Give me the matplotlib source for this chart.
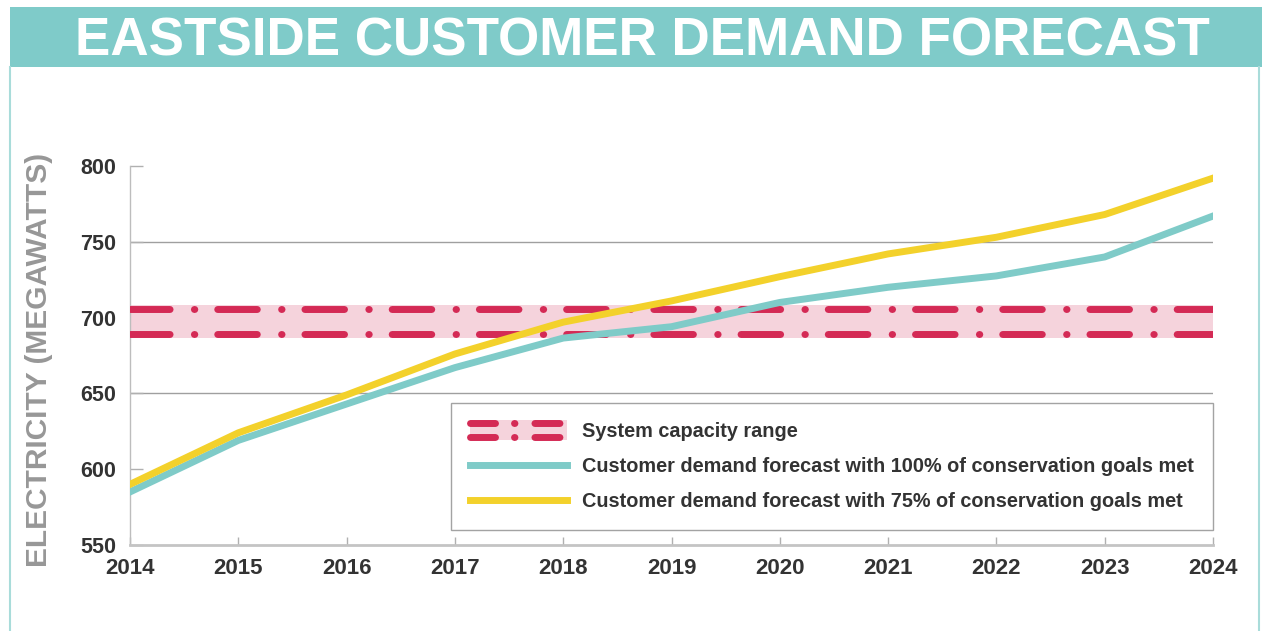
import matplotlib.pyplot as plt
from matplotlib.lines import Line2D
from matplotlib.patches import Rectangle
from matplotlib.legend_handler import HandlerBase

plt.rcParams['font.family'] = ['Liberation Sans', 'DejaVu Sans']
plt.rcParams['lines.scale_dashes'] = False

# data
years = list(range(2014, 2025))
demand_100 = [585, 619, 643, 667, 686.5, 694, 710, 720, 727.5, 740, 767]
demand_75 = [590, 624, 649, 676, 697, 711, 727, 742, 753, 768, 792]
capacity_low = 689
capacity_high = 706
y_ticks = [550, 600, 650, 700, 750, 800]
grid_values = [650, 750]
labels = ["System capacity range",
          "Customer demand forecast with 100% of conservation goals met",
          "Customer demand forecast with 75% of conservation goals met"]

TEAL = '#7fcbc8'
YELLOW = '#f3d12b'
RED = '#d42a55'
PINK = '#f5d3dc'
TEXT = '#333333'

PLOT_DASH = (0, (28.5, 17.5, 0.3, 16.5))
LEG_DASH = (0, (18, 13.7, 0.3, 14.4))


class CapacityHandler(HandlerBase):
    # pink band with a dash-dot line on each edge
    def create_artists(self, legend, orig_handle, xdescent, ydescent,
                       width, height, fontsize, trans):
        x0, x1 = -xdescent, width - xdescent
        yc = -ydescent + height / 2
        off = 5
        band = Rectangle((x0, yc - off - 2.5), width, 2 * off + 5,
                         facecolor=PINK, edgecolor='none', transform=trans)
        arts = [band]
        for s in (-1, 1):
            ln = Line2D([x0, x1], [yc + s * off, yc + s * off], color=RED,
                        lw=5, linestyle=LEG_DASH, dash_capstyle='round',
                        transform=trans)
            arts.append(ln)
        return arts


fig = plt.figure(figsize=(12.62, 6.31), dpi=100)
fig.patch.set_facecolor('white')

# title banner and frame
fig.add_artist(Rectangle((10 / 1262, 1 - 67 / 631), 1 - 10 / 1262, 60 / 631,
                         transform=fig.transFigure, facecolor='#7fcbc9',
                         edgecolor='none'))
fig.text(642 / 1262, 1 - 55 / 631, "EASTSIDE CUSTOMER DEMAND FORECAST",
         color='white', fontsize=38.2, fontweight='bold', ha='center',
         va='baseline')
for xf in (10 / 1262, 1259 / 1262):
    fig.add_artist(Line2D([xf, xf], [0, 1 - 67 / 631], transform=fig.transFigure,
                          color='#a9dcda', lw=1.5))

ax = fig.add_axes([130 / 1262, 1 - 545 / 631, 1083 / 1262, 379 / 631])
ax.set_xlim(2014, 2024)
ax.set_ylim(550, 800)

for g in grid_values:
    ax.axhline(g, color='#9f9f9f', lw=1, zorder=1)

ax.fill_between(years, capacity_low - 2.5, capacity_high + 2.5, color=PINK,
                lw=0, zorder=2)
for c in (capacity_low, capacity_high):
    ax.plot([years[0], years[-1]], [c, c], color=RED, lw=5,
            linestyle=PLOT_DASH, dash_capstyle='round', zorder=3)

ax.plot(years, demand_100, color=TEAL, lw=5, solid_joinstyle='round', zorder=4)
ax.plot(years, demand_75, color=YELLOW, lw=5, solid_joinstyle='round', zorder=5)

ax.set_xticks(years)
ax.set_yticks(y_ticks)
ax.tick_params(axis='y', direction='in', length=9, width=1, color='#b0b0b0',
               pad=10, labelsize=15.5, labelcolor=TEXT)
ax.tick_params(axis='x', direction='in', length=6, width=1, color='#b0b0b0',
               pad=9, labelsize=16, labelcolor=TEXT)
for lab in ax.get_xticklabels() + ax.get_yticklabels():
    lab.set_fontweight('bold')

for side in ('top', 'right'):
    ax.spines[side].set_visible(False)
ax.spines['left'].set_color('#bdbdbd')
ax.spines['left'].set_linewidth(1)
ax.spines['bottom'].set_color('#c4c4c4')
ax.spines['bottom'].set_linewidth(2)

fig.text(39 / 1262, 1 - 360 / 631, "ELECTRICITY (MEGAWATTS)", rotation=90,
         color='#979797', fontsize=21.5, fontweight='bold', ha='center',
         va='center')

handles = [object(),
           Line2D([], [], color=TEAL, lw=5),
           Line2D([], [], color=YELLOW, lw=5)]
leg = ax.legend(handles, labels, handler_map={object: CapacityHandler()},
                loc='upper right', bbox_to_anchor=(1.0, (545 - 403) / 379),
                frameon=True, fancybox=False, edgecolor='#8c8c8c',
                prop={'size': 14.3, 'weight': 'bold'}, labelcolor=TEXT,
                handlelength=4.9, handletextpad=0.75, labelspacing=0.8,
                borderpad=0.95, borderaxespad=0)
leg.get_frame().set_linewidth(1)
leg.set_zorder(6)

fig.savefig('out.png', dpi=100)
